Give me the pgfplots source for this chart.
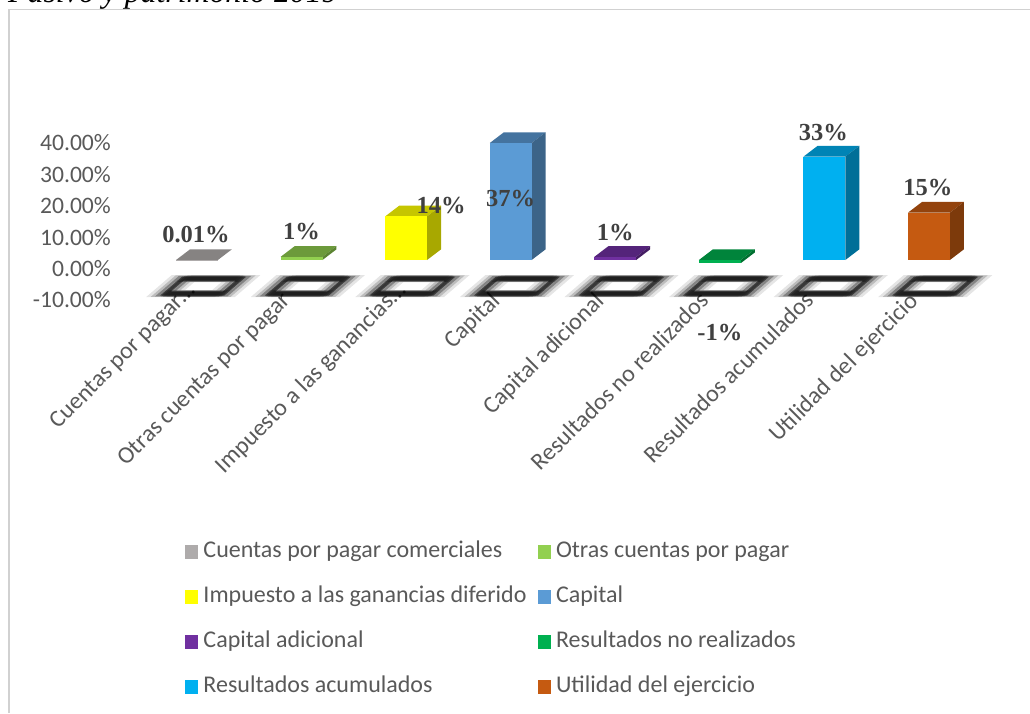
\documentclass[border=0pt]{standalone}
\usepackage{fontspec}
\usepackage{pgfplots}
\usepackage{pgfplotstable}
\pgfplotsset{compat=1.18}
\setmainfont{Carlito}
\newfontfamily\serifb{Liberation Serif}
\definecolor{txt}{HTML}{595959}
\definecolor{lab}{HTML}{404040}
\definecolor{HTMLa0}{HTML}{AEABAB}
\definecolor{HTMLa}{HTML}{868382}
\definecolor{HTMLb}{HTML}{92D050}
\definecolor{HTMLb1}{HTML}{6C9A3B}
\definecolor{HTMLb2}{HTML}{5C8432}
\definecolor{HTMLc}{HTML}{FFFF00}
\definecolor{HTMLc1}{HTML}{C6C600}
\definecolor{HTMLc2}{HTML}{A8A800}
\definecolor{HTMLd}{HTML}{5B9BD5}
\definecolor{HTMLd1}{HTML}{44739F}
\definecolor{HTMLd2}{HTML}{3C6488}
\definecolor{HTMLe}{HTML}{7030A0}
\definecolor{HTMLe1}{HTML}{54247A}
\definecolor{HTMLe2}{HTML}{441D63}
\definecolor{HTMLf}{HTML}{00B050}
\definecolor{HTMLf1}{HTML}{00843B}
\definecolor{HTMLf2}{HTML}{006F30}
\definecolor{HTMLg}{HTML}{00B0F0}
\definecolor{HTMLg1}{HTML}{0084B5}
\definecolor{HTMLg2}{HTML}{006F98}
\definecolor{HTMLh}{HTML}{C55A11}
\definecolor{HTMLh1}{HTML}{93430D}
\definecolor{HTMLh2}{HTML}{7D3A0B}
\pgfplotstableread{
x y
-0.30 -10.6
-0.134 -5.88
0.42 -5.88
0.254 -10.6
-0.30 -10.6
-0.134 -5.88
nan nan
0.70 -10.6
0.866 -5.88
1.42 -5.88
1.254 -10.6
0.70 -10.6
0.866 -5.88
nan nan
1.70 -10.6
1.866 -5.88
2.42 -5.88
2.254 -10.6
1.70 -10.6
1.866 -5.88
nan nan
2.70 -10.6
2.866 -5.88
3.42 -5.88
3.254 -10.6
2.70 -10.6
2.866 -5.88
nan nan
3.70 -10.6
3.866 -5.88
4.42 -5.88
4.254 -10.6
3.70 -10.6
3.866 -5.88
nan nan
4.70 -10.6
4.866 -5.88
5.42 -5.88
5.254 -10.6
4.70 -10.6
4.866 -5.88
nan nan
5.70 -10.6
5.866 -5.88
6.42 -5.88
6.254 -10.6
5.70 -10.6
5.866 -5.88
nan nan
6.70 -10.6
6.866 -5.88
7.42 -5.88
7.254 -10.6
6.70 -10.6
6.866 -5.88
}\ringtable
\pgfplotsset{ring/.style={unbounded coords=jump,forget plot,draw=black,line join=miter,miter limit=6}}
\begin{document}
\begin{tikzpicture}[x=1pt,y=1pt]
\path[use as bounding box] (0,0) rectangle (1030,713);
\node[anchor=base west,inner sep=0pt,font=\fontsize{31.8}{32}\selectfont\serifb\itshape,text=black] at (8,710.5) {Pasivo y patrimonio 2019};
\draw[color=black!18,line width=1.6pt] (9,0) -- (9,703.5) -- (1030,703.5);
% axis with the tick labels
\begin{axis}[at={(114pt,413pt)},anchor=south west,scale only axis,width=916pt,height=157pt,
  xmin=-0.7937,xmax=7.966,ymin=-10,ymax=40,clip=false,
  axis line style={draw=none},tick style={draw=none},
  ytick={-10,0,10,20,30,40},
  yticklabels={-10.00\%,0.00\%,10.00\%,20.00\%,30.00\%,40.00\%},
  yticklabel style={font=\fontsize{23.6}{24}\selectfont,text=txt,inner sep=0pt,xshift=-3pt},
  xtick={0,...,7},
  xticklabels={Cuentas por pagar\ldots\kern-13pt,Otras cuentas por pagar,Impuesto a las ganancias\ldots\kern-15pt,Capital,Capital adicional,Resultados no realizados,Resultados acumulados,Utilidad del ejercicio},
  xticklabel style={font=\fontsize{24}{24}\selectfont,text=txt,rotate=45,anchor=north east,inner sep=0pt,xshift=-8pt,yshift=22pt},
]
\addplot[draw=none,forget plot] coordinates {(0,0)};
\end{axis}
% axis with the bars
\begin{axis}[at={(114pt,413pt)},anchor=south west,scale only axis,width=916pt,height=157pt,
  xmin=-0.7937,xmax=7.966,ymin=-12.65,ymax=37,clip=false,
  axis line style={draw=none},ticks=none,
  legend columns=2,
  legend cell align=left,
  legend style={draw=none,fill=none,at={(0.0775,-1.542)},anchor=north west,inner sep=0pt,outer sep=0pt,
    font=\fontsize{24}{24}\selectfont,text=txt,
    /tikz/every even column/.append style={column sep=11pt},
    /tikz/every odd column/.append style={column sep=5pt},
    /tikz/nodes={inner sep=0pt,text height=15pt,text depth=5pt},
    row sep=25pt},
  legend image code/.code={\fill[#1] (0pt,-6.5pt) rectangle (13.5pt,7pt);},
]
% tick marks, blurred
\addplot[ring,opacity=0.10,line width=7pt,xshift=-10pt] table {\ringtable};
\addplot[ring,opacity=0.10,line width=7pt,xshift=10pt] table {\ringtable};
\addplot[ring,opacity=0.18,line width=6.5pt,xshift=-6pt] table {\ringtable};
\addplot[ring,opacity=0.18,line width=6.5pt,xshift=6pt] table {\ringtable};
\addplot[ring,opacity=0.30,line width=5.5pt,xshift=-3pt] table {\ringtable};
\addplot[ring,opacity=0.30,line width=5.5pt,xshift=3pt] table {\ringtable};
\addplot[ring,opacity=0.55,line width=4pt] table {\ringtable};
% faces
\addplot[fill=HTMLa,draw=none,forget plot] coordinates {(-0.2,0.01) (0.2,0.01) (0.334,3.39) (-0.066,3.39)} -- cycle;
\addplot[fill=HTMLb1,draw=none,forget plot] coordinates {(0.8,1) (1.2,1) (1.334,4.38) (0.934,4.38)} -- cycle;
\addplot[fill=HTMLb2,draw=none,forget plot] coordinates {(1.2,0) (1.334,3.38) (1.334,4.38) (1.2,1)} -- cycle;
\addplot[fill=HTMLc1,draw=none,forget plot] coordinates {(1.8,13.8) (2.2,13.8) (2.334,17.18) (1.934,17.18)} -- cycle;
\addplot[fill=HTMLc2,draw=none,forget plot] coordinates {(2.2,0) (2.334,3.38) (2.334,17.18) (2.2,13.8)} -- cycle;
\addplot[fill=HTMLd1,draw=none,forget plot] coordinates {(2.8,37) (3.2,37) (3.334,40.38) (2.934,40.38)} -- cycle;
\addplot[fill=HTMLd2,draw=none,forget plot] coordinates {(3.2,0) (3.334,3.38) (3.334,40.38) (3.2,37)} -- cycle;
\addplot[fill=HTMLe1,draw=none,forget plot] coordinates {(3.8,1) (4.2,1) (4.334,4.38) (3.934,4.38)} -- cycle;
\addplot[fill=HTMLe2,draw=none,forget plot] coordinates {(4.2,0) (4.334,3.38) (4.334,4.38) (4.2,1)} -- cycle;
\addplot[fill=HTMLf1,draw=none,forget plot] coordinates {(4.8,0) (5.2,0) (5.334,3.38) (4.934,3.38)} -- cycle;
\addplot[fill=HTMLf2,draw=none,forget plot] coordinates {(5.2,-1) (5.334,2.38) (5.334,3.38) (5.2,0)} -- cycle;
\addplot[fill=HTMLg1,draw=none,forget plot] coordinates {(5.8,32.7) (6.2,32.7) (6.334,36.08) (5.934,36.08)} -- cycle;
\addplot[fill=HTMLg2,draw=none,forget plot] coordinates {(6.2,0) (6.334,3.38) (6.334,36.08) (6.2,32.7)} -- cycle;
\addplot[fill=HTMLh1,draw=none,forget plot] coordinates {(6.8,15) (7.2,15) (7.334,18.38) (6.934,18.38)} -- cycle;
\addplot[fill=HTMLh2,draw=none,forget plot] coordinates {(7.2,0) (7.334,3.38) (7.334,18.38) (7.2,15)} -- cycle;
% fronts
\addplot[ybar,bar width=42pt,bar shift=0pt,fill=HTMLa0,draw=none] coordinates {(0,0.01)};
\addplot[ybar,bar width=42pt,bar shift=0pt,fill=HTMLb,draw=none] coordinates {(1,1)};
\addplot[ybar,bar width=42pt,bar shift=0pt,fill=HTMLc,draw=none] coordinates {(2,13.8)};
\addplot[ybar,bar width=42pt,bar shift=0pt,fill=HTMLd,draw=none] coordinates {(3,37)};
\addplot[ybar,bar width=42pt,bar shift=0pt,fill=HTMLe,draw=none] coordinates {(4,1)};
\addplot[ybar,bar width=42pt,bar shift=0pt,fill=HTMLf,draw=none] coordinates {(5,-1)};
\addplot[ybar,bar width=42pt,bar shift=0pt,fill=HTMLg,draw=none] coordinates {(6,32.7)};
\addplot[ybar,bar width=42pt,bar shift=0pt,fill=HTMLh,draw=none] coordinates {(7,15)};
\legend{Cuentas por pagar comerciales,Otras cuentas por pagar,Impuesto a las ganancias diferido,Capital,Capital adicional,Resultados no realizados,Resultados acumulados,Utilidad del ejercicio}
% data labels
\addplot[draw=none,forget plot,point meta=explicit symbolic,
  nodes near coords,
  nodes near coords style={anchor=center,inner sep=0pt,font=\fontsize{24.5}{24.5}\selectfont\serifb\bfseries,text=lab}]
  coordinates {
  (-0.01,7.9) [0.01\%]
  (1.0,9.1) [1\%]
  (2.335,17.1) [14\%]
  (3.0,19.6) [37\%]
  (4.0,8.8) [1\%]
  (5.0,-23) [-1\%]
  (5.99,40.3) [33\%]
  (6.99,23) [15\%]
  };
\end{axis}
\end{tikzpicture}
\end{document}
